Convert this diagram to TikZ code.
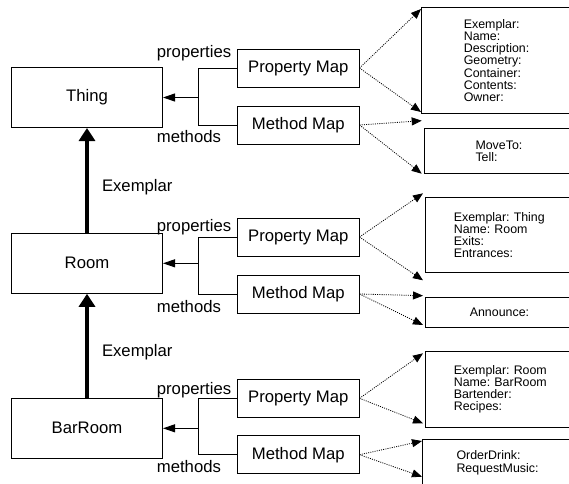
\documentclass[tikz,border=0pt]{standalone}
\usepackage{fontspec}
\setmainfont{Liberation Sans}
\usetikzlibrary{arrows.meta,calc}

\tikzset{
  classbox/.style={rectangle, draw, line width=1pt, minimum width=151pt, minimum height=60pt, font=\fontsize{16.7}{19}\selectfont},
  mapbox/.style={rectangle, draw, line width=1pt, minimum width=121.5pt, minimum height=38pt, font=\fontsize{16.7}{19}\selectfont},
  lbl/.style={font=\fontsize{16.7}{19}\selectfont, inner sep=0pt},
  slot/.style={rectangle, draw, line width=1pt, anchor=north west, align=left, text width=120pt, inner xsep=#1, inner ysep=0pt, font=\fontsize{12.4}{12.1}\selectfont\frenchspacing},
  sarrow/.style={line width=1pt, -{Triangle[length=12pt,width=8pt]}},
  exarrow/.style={line width=4pt, -{Triangle[length=13pt,width=16pt]}},
  dotarrow/.style={line width=0.8pt, dash pattern=on 1pt off 1.2pt, -{Triangle[length=10pt,width=8pt]}},
}

\begin{document}
\begin{tikzpicture}[x=1pt, y=-1pt]
  \clip (0,0) rectangle (569,483);
  % classes
  \node[classbox] (thing) at (87,97.5) {Thing};
  \node[classbox] (room) at (87,263.3) {Room};
  \node[classbox] (barroom) at (87,428.3) {BarRoom};
  % maps
  \node[mapbox] (tpm) at (298.3,68) {Property Map};
  \node[mapbox] (tmm) at (298.3,125) {Method Map};
  \node[mapbox] (rpm) at (298.3,237) {Property Map};
  \node[mapbox] (rmm) at (298.3,294) {Method Map};
  \node[mapbox] (bpm) at (298.3,398.3) {Property Map};
  \node[mapbox] (bmm) at (298.3,454.7) {Method Map};
  \node[lbl, anchor=west] (tprop) at (156.7,53.3) {properties};
  \node[lbl, anchor=west] (tmeth) at (156.7,136.7) {methods};
  \node[lbl, anchor=west] (rprop) at (156.7,226.7) {properties};
  \node[lbl, anchor=west] (rmeth) at (156.7,306.7) {methods};
  \node[lbl, anchor=west] (bprop) at (156.7,390) {properties};
  \node[lbl, anchor=west] (bmeth) at (156.7,466.7) {methods};
  % slots
  \node[slot=42.3pt, minimum height=105.4pt] (tpr) at (421,7.3) {Exemplar:\\Name:\\Description:\\Geometry:\\Container:\\Contents:\\Owner:};
  \node[slot=50.7pt, minimum height=44.4pt] (tmr) at (424.3,128.3) {MoveTo:\\Tell:};
  \node[slot=28.3pt, minimum height=75pt] (rpr) at (425,197.3) {Exemplar: Thing\\Name: Room\\Exits:\\Entrances:};
  \node[slot=44.3pt, minimum height=30pt] (rmr) at (425,297) {Announce:};
  \node[slot=28.3pt, minimum height=76pt] (bpr) at (425,350.7) {Exemplar: Room\\Name: BarRoom\\Bartender:\\Recipes:};
  \node[slot=34pt, minimum height=46pt] (bmr) at (422,439.3) {OrderDrink:\\RequestMusic:};
  % junctions
  \coordinate (tj) at ($(tpm.west |- thing.east)+(-38.5,0)$);
  \coordinate (rj) at ($(rpm.west |- room.east)+(-38.5,0)$);
  \coordinate (bj) at ($(bpm.west |- barroom.east)+(-38.5,0)$);
  \draw[line width=1pt] (tpm.west) -| (tj) |- (tmm.west);
  \draw[line width=1pt] (rpm.west) -| (rj) |- (rmm.west);
  \draw[line width=1pt] (bpm.west) -| (bj) |- (bmm.west);
  \draw[sarrow] (tj) -- (thing.east);
  \draw[sarrow] (rj) -- (room.east);
  \draw[sarrow] (bj) -- (barroom.east);
  % exemplar links
  \draw[exarrow] (room.north) -- node[lbl, anchor=west, pos=0.44, xshift=13pt] (ex1) {Exemplar} (thing.south);
  \draw[exarrow] (barroom.north) -- node[lbl, anchor=west, pos=0.44, xshift=13pt] (ex2) {Exemplar} (room.south);
  % dotted pointers
  \draw[dotarrow] (tpm.east) -- ([yshift=-1.7pt]tpr.north west);
  \draw[dotarrow] (tpm.east) -- ([yshift=1.7pt]tpr.south west);
  \draw[dotarrow] (tmm.east) -- ([shift={(-2.6pt,7.6pt)}]tmr.north west);
  \draw[dotarrow] (tmm.east) -- ([xshift=-2.6pt]tmr.south west);
  \draw[dotarrow] (rpm.east) -- ([shift={(-2pt,4pt)}]rpr.north west);
  \draw[dotarrow] (rpm.east) -- ([shift={(-2pt,-7pt)}]rpr.south west);
  \draw[dotarrow] (rmm.east) -- ([shift={(-2pt,1.3pt)}]rmr.north west);
  \draw[dotarrow] (rmm.east) -- ([shift={(-2pt,3pt)}]rmr.south west);
  \draw[dotarrow] (bpm.east) -- ([shift={(-2pt,-2.6pt)}]bpr.north west);
  \draw[dotarrow] (bpm.east) -- ([shift={(-2pt,4.4pt)}]bpr.south west);
  \draw[dotarrow] (bmm.east) -- ([yshift=-1.7pt]bmr.north west);
  \draw[dotarrow] (bmm.east) -- ([yshift=-37.4pt]bmr.north west);
\end{tikzpicture}
\end{document}
